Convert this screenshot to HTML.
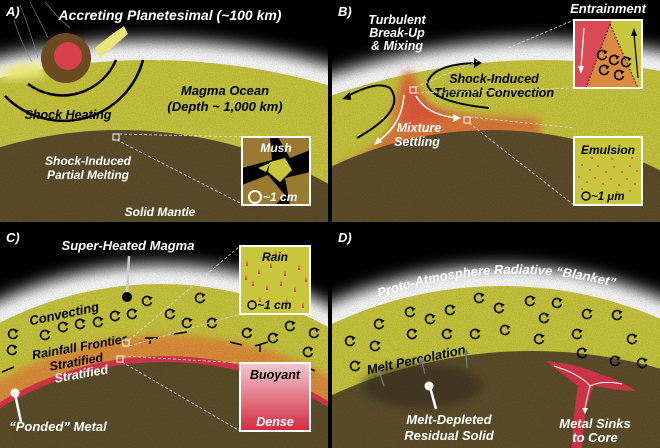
<!DOCTYPE html>
<html><head><meta charset="utf-8"><style>
html,body{margin:0;padding:0;background:#000;width:660px;height:448px;overflow:hidden;}
svg{display:block;}
text{font-family:"Liberation Sans",sans-serif;font-weight:bold;font-style:italic;}
</style></head><body>
<svg width="660" height="448" viewBox="0 0 660 448" xmlns="http://www.w3.org/2000/svg">
<defs>
<filter id="glow" x="-20%" y="-20%" width="140%" height="140%"><feGaussianBlur stdDeviation="8"/></filter>
<filter id="soft" x="-20%" y="-20%" width="140%" height="140%"><feGaussianBlur stdDeviation="4"/></filter>
<filter id="grain"><feTurbulence type="fractalNoise" baseFrequency="0.9" numOctaves="2" seed="3"/><feColorMatrix values="0 0 0 0 0  0 0 0 0 0  0 0 0 0 0  0 0 0 0.22 -0.04"/><feComposite in2="SourceGraphic" operator="in"/></filter>
<clipPath id="pc"><rect x="0" y="0" width="328" height="222"/></clipPath>
<g id="sw"><path d="M3.6,-2.8 A4.5,4.5 0 1 0 4.4,1.2" fill="none" stroke="#000" stroke-width="1.6"/><path d="M1.2,-4.8 L5.6,-3.6 L2.6,-0.4 Z" fill="#000"/></g>
<linearGradient id="bd" x1="0" y1="0" x2="0" y2="1"><stop offset="0" stop-color="#f2c9cf"/><stop offset="1" stop-color="#d42a40"/></linearGradient>
<path id="arcD" d="M20,82 Q170,20 310,70"/>
</defs>

<!-- ===== Panel A ===== -->
<g clip-path="url(#pc)">
<rect width="330" height="224" fill="#000"/>
<circle cx="150" cy="700" r="660" fill="#fff" filter="url(#glow)"/>
<circle cx="150" cy="700" r="648" fill="#fff" filter="url(#soft)"/>
<circle cx="150" cy="700" r="640" fill="#cac83e"/>
<circle cx="120" cy="560" r="445" fill="#cccb46" filter="url(#glow)" opacity="0.6"/>
<circle cx="120" cy="560" r="430" fill="#5e4f2b"/>
<rect width="330" height="224" fill="#fff" filter="url(#grain)"/>
<path d="M2,70 Q20,60 42,64 L44,76 Q20,80 2,80Z" fill="#e8e67a" filter="url(#soft)"/>
<path d="M95,48 Q110,35 124,26 L128,34 Q115,45 100,58Z" fill="#e8e67a"/>
<circle cx="66" cy="58" r="25" fill="#6b4a22"/>
<circle cx="68" cy="56" r="14" fill="#d9414a"/>
<g stroke="#888" stroke-width="0.6" fill="none"><path d="M20,5 Q30,30 38,58"/><path d="M30,2 Q42,25 48,38"/><path d="M45,2 Q60,20 70,28"/><path d="M14,20 Q20,40 32,62"/></g>
<path d="M28,84 A58,58 0 0 0 116,60" fill="none" stroke="#000" stroke-width="2.5"/>
<path d="M5,96 A82,82 0 0 0 143,60" fill="none" stroke="#000" stroke-width="2.5"/>
<text x="6" y="16" font-size="13" fill="#fff">A)</text>
<text x="170" y="20" font-size="14" fill="#fff" text-anchor="middle">Accreting Planetesimal (~100 km)</text>
<text x="68" y="119" font-size="12.5" fill="#000" text-anchor="middle">Shock Heating</text>
<text x="225" y="95" font-size="13" fill="#000" text-anchor="middle">Magma Ocean</text>
<text x="225" y="111" font-size="13" fill="#000" text-anchor="middle">(Depth ~ 1,000 km)</text>
<rect x="113" y="134" width="6" height="6" fill="none" stroke="#fff" stroke-width="1"/>
<path d="M119,134 L242,137 M117,140 L242,204" stroke="#ddd" stroke-width="0.8" stroke-dasharray="3,2"/>
<text x="88" y="165" font-size="12" fill="#fff" text-anchor="middle">Shock-Induced</text>
<text x="88" y="179" font-size="12" fill="#fff" text-anchor="middle">Partial Melting</text>
<text x="160" y="216" font-size="12" fill="#fff" text-anchor="middle">Solid Mantle</text>
<rect x="242" y="137" width="68" height="68" fill="#000"/>
<path d="M242,137 H270 L272,160 L242,168Z" fill="#9a7a30"/>
<path d="M278,137 H310 V150 L290,158 Z" fill="#9a7a30"/>
<path d="M242,185 L268,175 L285,195 L275,205 H242Z" fill="#9a7a30"/>
<path d="M285,178 L310,172 V205 H290Z" fill="#9a7a30"/>
<path d="M270,162 L285,158 L292,170 L280,182 L268,172Z" fill="#c8c63c"/>
<path d="M258,168 L270,163 L266,172Z" fill="#c8c63c"/>
<rect x="242" y="137" width="68" height="68" fill="none" stroke="#fff" stroke-width="2"/>
<text x="276" y="152" font-size="12" fill="#fff" text-anchor="middle">Mush</text>
<circle cx="255" cy="197" r="6" fill="none" stroke="#fff" stroke-width="2"/>
<text x="263" y="201" font-size="12" fill="#fff">~1 cm</text>
</g>

<!-- ===== Panel B ===== -->
<g transform="translate(332,0)"><g clip-path="url(#pc)">
<rect width="330" height="224" fill="#000"/>
<circle cx="210" cy="700" r="660" fill="#fff" filter="url(#glow)"/>
<circle cx="210" cy="700" r="648" fill="#fff" filter="url(#soft)"/>
<circle cx="210" cy="700" r="640" fill="#cac83e"/>
<path d="M72,72 Q62,100 58,130 Q30,160 0,168 V190 Q40,175 70,150 Q130,135 210,135 L205,118 Q130,118 95,105 Q85,90 82,72Z" fill="#e07a3a" filter="url(#soft)"/>
<path d="M75,85 Q70,110 70,130 Q90,120 120,118 Q92,108 82,85Z" fill="#e45a3e" filter="url(#soft)"/>
<circle cx="160" cy="500" r="370" fill="#5e4f2b"/>
<rect width="330" height="224" fill="#fff" filter="url(#grain)"/>
<text x="6" y="16" font-size="13" fill="#fff">B)</text>
<text x="65" y="24" font-size="12.5" fill="#fff" text-anchor="middle">Turbulent</text>
<text x="65" y="37" font-size="12.5" fill="#fff" text-anchor="middle">Break-Up</text>
<text x="65" y="50" font-size="12.5" fill="#fff" text-anchor="middle">&amp; Mixing</text>
<path d="M25,138 Q75,110 58,88 Q45,80 14,97" fill="none" stroke="#000" stroke-width="2"/>
<path d="M10,99 L18,92 L19,100Z" fill="#000"/>
<path d="M157,108 Q100,102 95,84 Q100,64 145,63" fill="none" stroke="#000" stroke-width="2"/>
<path d="M150,63 L142,58 L142,68Z" fill="#000"/>
<text x="162" y="83" font-size="12.5" fill="#000" text-anchor="middle">Shock-Induced</text>
<text x="162" y="97" font-size="12.5" fill="#000" text-anchor="middle">Thermal Convection</text>
<path d="M72,95 Q70,125 45,142" fill="none" stroke="#fff" stroke-width="1.5"/>
<path d="M42,145 L46,137 L50,142Z" fill="#fff"/>
<path d="M84,96 Q95,115 125,118" fill="none" stroke="#fff" stroke-width="1.5"/>
<path d="M129,118 L121,114 L121,122Z" fill="#fff"/>
<text x="87" y="132" font-size="12.5" fill="#fff" text-anchor="middle">Mixture</text>
<text x="85" y="146" font-size="12.5" fill="#fff" text-anchor="middle">Settling</text>
<rect x="78" y="87" width="6" height="6" fill="none" stroke="#fff" stroke-width="1"/>
<rect x="132" y="117" width="6" height="6" fill="none" stroke="#fff" stroke-width="1"/>
<path d="M84,87 L242,20 M84,93 L242,88 M138,117 L242,128 M137,123 L242,205" stroke="#ddd" stroke-width="0.8" stroke-dasharray="3,2"/>
<text x="276" y="13" font-size="13" fill="#fff" text-anchor="middle">Entrainment</text>
<rect x="242" y="20" width="68" height="68" fill="#c8c63c"/>
<path d="M242,20 H280 L257,88 H242Z" fill="#d94a55"/>
<path d="M278,24 L306,88 H254Z" fill="#dc8a40"/>
<path d="M278,24 L254,88 M278,24 L306,88" stroke="#000" stroke-width="1" stroke-dasharray="1.5,2"/>
<g transform="translate(282,60)"><use href="#sw" x="0" y="0"/><use href="#sw" x="-10" y="10"/><use href="#sw" x="5" y="15"/><use href="#sw" x="12" y="2"/><use href="#sw" x="-12" y="-5"/></g>
<path d="M252,28 L249,68" stroke="#fff" stroke-width="1.2"/><path d="M246,66 L249,74 L252,66Z" fill="#fff"/>
<path d="M306,78 L302,34" stroke="#000" stroke-width="1.2"/><path d="M299,36 L302,28 L305,36Z" fill="#000"/>
<rect x="242" y="20" width="68" height="68" fill="none" stroke="#fff" stroke-width="2"/>
<rect x="242" y="137" width="68" height="68" fill="#c8c63c"/>
<g fill="#e03040">
<circle cx="250" cy="165" r="0.9"/><circle cx="258" cy="170" r="0.9"/><circle cx="266" cy="166" r="0.9"/><circle cx="274" cy="172" r="0.9"/><circle cx="282" cy="167" r="0.9"/><circle cx="290" cy="172" r="0.9"/><circle cx="298" cy="166" r="0.9"/><circle cx="305" cy="171" r="0.9"/>
<circle cx="247" cy="177" r="0.9"/><circle cx="255" cy="182" r="0.9"/><circle cx="263" cy="178" r="0.9"/><circle cx="271" cy="184" r="0.9"/><circle cx="279" cy="179" r="0.9"/><circle cx="287" cy="185" r="0.9"/><circle cx="295" cy="179" r="0.9"/><circle cx="303" cy="184" r="0.9"/>
<circle cx="250" cy="189" r="0.9"/><circle cx="285" cy="192" r="0.9"/><circle cx="298" cy="191" r="0.9"/><circle cx="260" cy="158" r="0.9"/><circle cx="280" cy="159" r="0.9"/><circle cx="300" cy="158" r="0.9"/>
</g>
<rect x="242" y="137" width="68" height="68" fill="none" stroke="#fff" stroke-width="2"/>
<text x="276" y="154" font-size="12" fill="#000" text-anchor="middle">Emulsion</text>
<circle cx="254" cy="196" r="4" fill="none" stroke="#000" stroke-width="1.4"/>
<text x="259" y="200" font-size="11.5" fill="#000">~1 μm</text>
</g></g>

<!-- ===== Panel C ===== -->
<g transform="translate(0,226)"><g clip-path="url(#pc)">
<rect width="330" height="224" fill="#000"/>
<circle cx="160" cy="408" r="370" fill="#fff" filter="url(#glow)"/>
<circle cx="160" cy="408" r="358" fill="#fff" filter="url(#soft)"/>
<circle cx="160" cy="408" r="350" fill="#cac83e"/>
<circle cx="168" cy="445" r="336" fill="#e0903a" filter="url(#soft)"/>
<circle cx="165" cy="448" r="318" fill="#d9374a"/>
<circle cx="165" cy="454" r="318" fill="#5e4f2b"/>
<rect width="330" height="224" fill="#fff" filter="url(#grain)"/>
<g>
<use href="#sw" x="147" y="75"/><use href="#sw" x="132" y="88"/><use href="#sw" x="115" y="90"/><use href="#sw" x="98" y="96"/><use href="#sw" x="80" y="98"/><use href="#sw" x="63" y="101"/><use href="#sw" x="45" y="109"/><use href="#sw" x="13" y="108"/><use href="#sw" x="12" y="124"/><use href="#sw" x="170" y="88"/><use href="#sw" x="187" y="97"/><use href="#sw" x="200" y="72"/><use href="#sw" x="212" y="97"/><use href="#sw" x="247" y="107"/><use href="#sw" x="273" y="112"/><use href="#sw" x="290" y="100"/><use href="#sw" x="308" y="126"/><use href="#sw" x="314" y="107"/>
</g>
<g stroke="#000" stroke-width="1.5"><path d="M2,146 L14,141"/><path d="M145,112 L158,112"/><path d="M174,108 L187,106"/><path d="M230,116 L242,119"/><path d="M255,120 L268,116"/><path d="M305,140 L315,145"/><path d="M150,112 V118"/><path d="M260,118 V126"/></g>
<text x="6" y="16" font-size="13" fill="#fff">C)</text>
<text x="128" y="24" font-size="13" fill="#fff" text-anchor="middle">Super-Heated Magma</text>
<path d="M129,30 L127,68" stroke="#ccc" stroke-width="2.5"/>
<circle cx="127" cy="71" r="5" fill="#000"/>
<text transform="translate(65,92) rotate(-12)" font-size="13" fill="#000" text-anchor="middle">Convecting</text>
<text transform="translate(80,125) rotate(-10)" font-size="12.5" fill="#000" text-anchor="middle">Rainfall Frontier</text>
<text transform="translate(77,140) rotate(-10)" font-size="12.5" fill="#000" text-anchor="middle">Stratified</text>
<text transform="translate(82,152) rotate(-10)" font-size="12.5" fill="#fff" text-anchor="middle">Stratified</text>
<rect x="123" y="114" width="6" height="6" fill="none" stroke="#fff" stroke-width="1"/>
<rect x="117" y="130" width="6" height="6" fill="none" stroke="#fff" stroke-width="1"/>
<path d="M129,114 L240,20 M129,120 L240,88 M123,130 L240,137 M122,136 L240,205" stroke="#ddd" stroke-width="0.8" stroke-dasharray="3,2"/>
<path d="M15,168 L21,196" stroke="#fff" stroke-width="2.5"/>
<circle cx="15" cy="167" r="4.5" fill="#fff"/>
<text x="58" y="205" font-size="13" fill="#fff" text-anchor="middle">“Ponded” Metal</text>
<rect x="240" y="20" width="70" height="68" fill="#c8c63c"/>
<g fill="#e03040">
<path d="M246,40 l1,-6 l1,6z"/><path d="M258,48 l1,-6 l1,6z"/><path d="M270,42 l1,-6 l1,6z"/><path d="M284,50 l1,-6 l1,6z"/><path d="M298,44 l1,-6 l1,6z"/><path d="M252,60 l1,-6 l1,6z"/><path d="M266,64 l1,-6 l1,6z"/><path d="M280,60 l1,-6 l1,6z"/><path d="M294,66 l1,-6 l1,6z"/><path d="M305,56 l1,-6 l1,6z"/><path d="M259,76 l1,-6 l1,6z"/><path d="M286,78 l1,-6 l1,6z"/><path d="M302,82 l1,-6 l1,6z"/><path d="M245,54 l1,-6 l1,6z"/><path d="M275,30 l1,-6 l1,6z"/>
</g>
<rect x="240" y="20" width="70" height="68" fill="none" stroke="#fff" stroke-width="2"/>
<text x="275" y="35" font-size="12" fill="#000" text-anchor="middle">Rain</text>
<circle cx="252" cy="79" r="4" fill="none" stroke="#000" stroke-width="1.4"/>
<text x="257" y="83" font-size="12" fill="#000">~1 cm</text>
<rect x="240" y="137" width="70" height="68" fill="url(#bd)"/>
<rect x="240" y="137" width="70" height="68" fill="none" stroke="#fff" stroke-width="2"/>
<text x="275" y="153" font-size="12.5" fill="#000" text-anchor="middle">Buoyant</text>
<text x="275" y="200" font-size="12.5" fill="#fff" text-anchor="middle">Dense</text>
</g></g>

<!-- ===== Panel D ===== -->
<g transform="translate(332,226)"><g clip-path="url(#pc)">
<rect width="330" height="224" fill="#000"/>
<circle cx="170" cy="460" r="420" fill="#fff" filter="url(#glow)"/>
<circle cx="170" cy="460" r="408" fill="#fff" filter="url(#soft)"/>
<circle cx="170" cy="460" r="400" fill="#cac83e"/>
<circle cx="200" cy="600" r="475" fill="#5e4f2b"/>
<ellipse cx="90" cy="160" rx="60" ry="22" fill="#3a3220" filter="url(#soft)" opacity="0.7"/>
<path d="M214,135 Q245,138 268,148 Q292,156 304,165 Q282,164 262,160 Q252,180 250,222 L240,222 Q242,180 246,160 Q228,146 214,135Z" fill="#d9374a"/>
<rect width="330" height="224" fill="#fff" filter="url(#grain)"/>
<path d="M222,140 Q248,148 258,160 M258,160 Q270,154 290,158 M258,160 Q255,172 253,182" fill="none" stroke="#fff" stroke-width="1"/>
<path d="M250,182 L253,188 L256,182Z" fill="#fff"/>
<g>
<use href="#sw" x="47" y="98"/><use href="#sw" x="18" y="115"/><use href="#sw" x="43" y="120"/><use href="#sw" x="23" y="140"/><use href="#sw" x="78" y="86"/><use href="#sw" x="98" y="93"/><use href="#sw" x="118" y="84"/><use href="#sw" x="80" y="108"/><use href="#sw" x="115" y="108"/><use href="#sw" x="143" y="108"/><use href="#sw" x="147" y="72"/><use href="#sw" x="167" y="82"/><use href="#sw" x="173" y="104"/><use href="#sw" x="198" y="75"/><use href="#sw" x="225" y="77"/><use href="#sw" x="212" y="92"/><use href="#sw" x="207" y="113"/><use href="#sw" x="245" y="108"/><use href="#sw" x="255" y="88"/><use href="#sw" x="285" y="89"/><use href="#sw" x="300" y="113"/><use href="#sw" x="250" y="127"/><use href="#sw" x="283" y="135"/><use href="#sw" x="310" y="137"/>
</g>
<text font-size="13" fill="#fff"><textPath href="#arcD" startOffset="50%" text-anchor="middle">Proto-Atmosphere Radiative “Blanket”</textPath></text>
<text x="6" y="16" font-size="13" fill="#fff">D)</text>
<text transform="translate(85,138) rotate(-12)" font-size="13" fill="#000" text-anchor="middle">Melt Percolation</text>
<g stroke="#777" stroke-width="1.3"><path d="M52,160 L48,148"/><path d="M93,148 L90,136"/><path d="M135,142 L134,128"/></g>
<g fill="#777"><path d="M45,149 L48,143 L51,148Z"/><path d="M87,137 L90,131 L93,136Z"/><path d="M131,129 L134,123 L137,128Z"/></g>
<path d="M98,161 L104,183" stroke="#fff" stroke-width="2.5"/>
<circle cx="97" cy="160" r="4.5" fill="#fff"/>
<text x="117" y="198" font-size="13" fill="#fff" text-anchor="middle">Melt-Depleted</text>
<text x="117" y="214" font-size="13" fill="#fff" text-anchor="middle">Residual Solid</text>
<text x="263" y="202" font-size="13" fill="#fff" text-anchor="middle">Metal Sinks</text>
<text x="263" y="216" font-size="13" fill="#fff" text-anchor="middle">to Core</text>
</g></g>
</svg>
</body></html>
